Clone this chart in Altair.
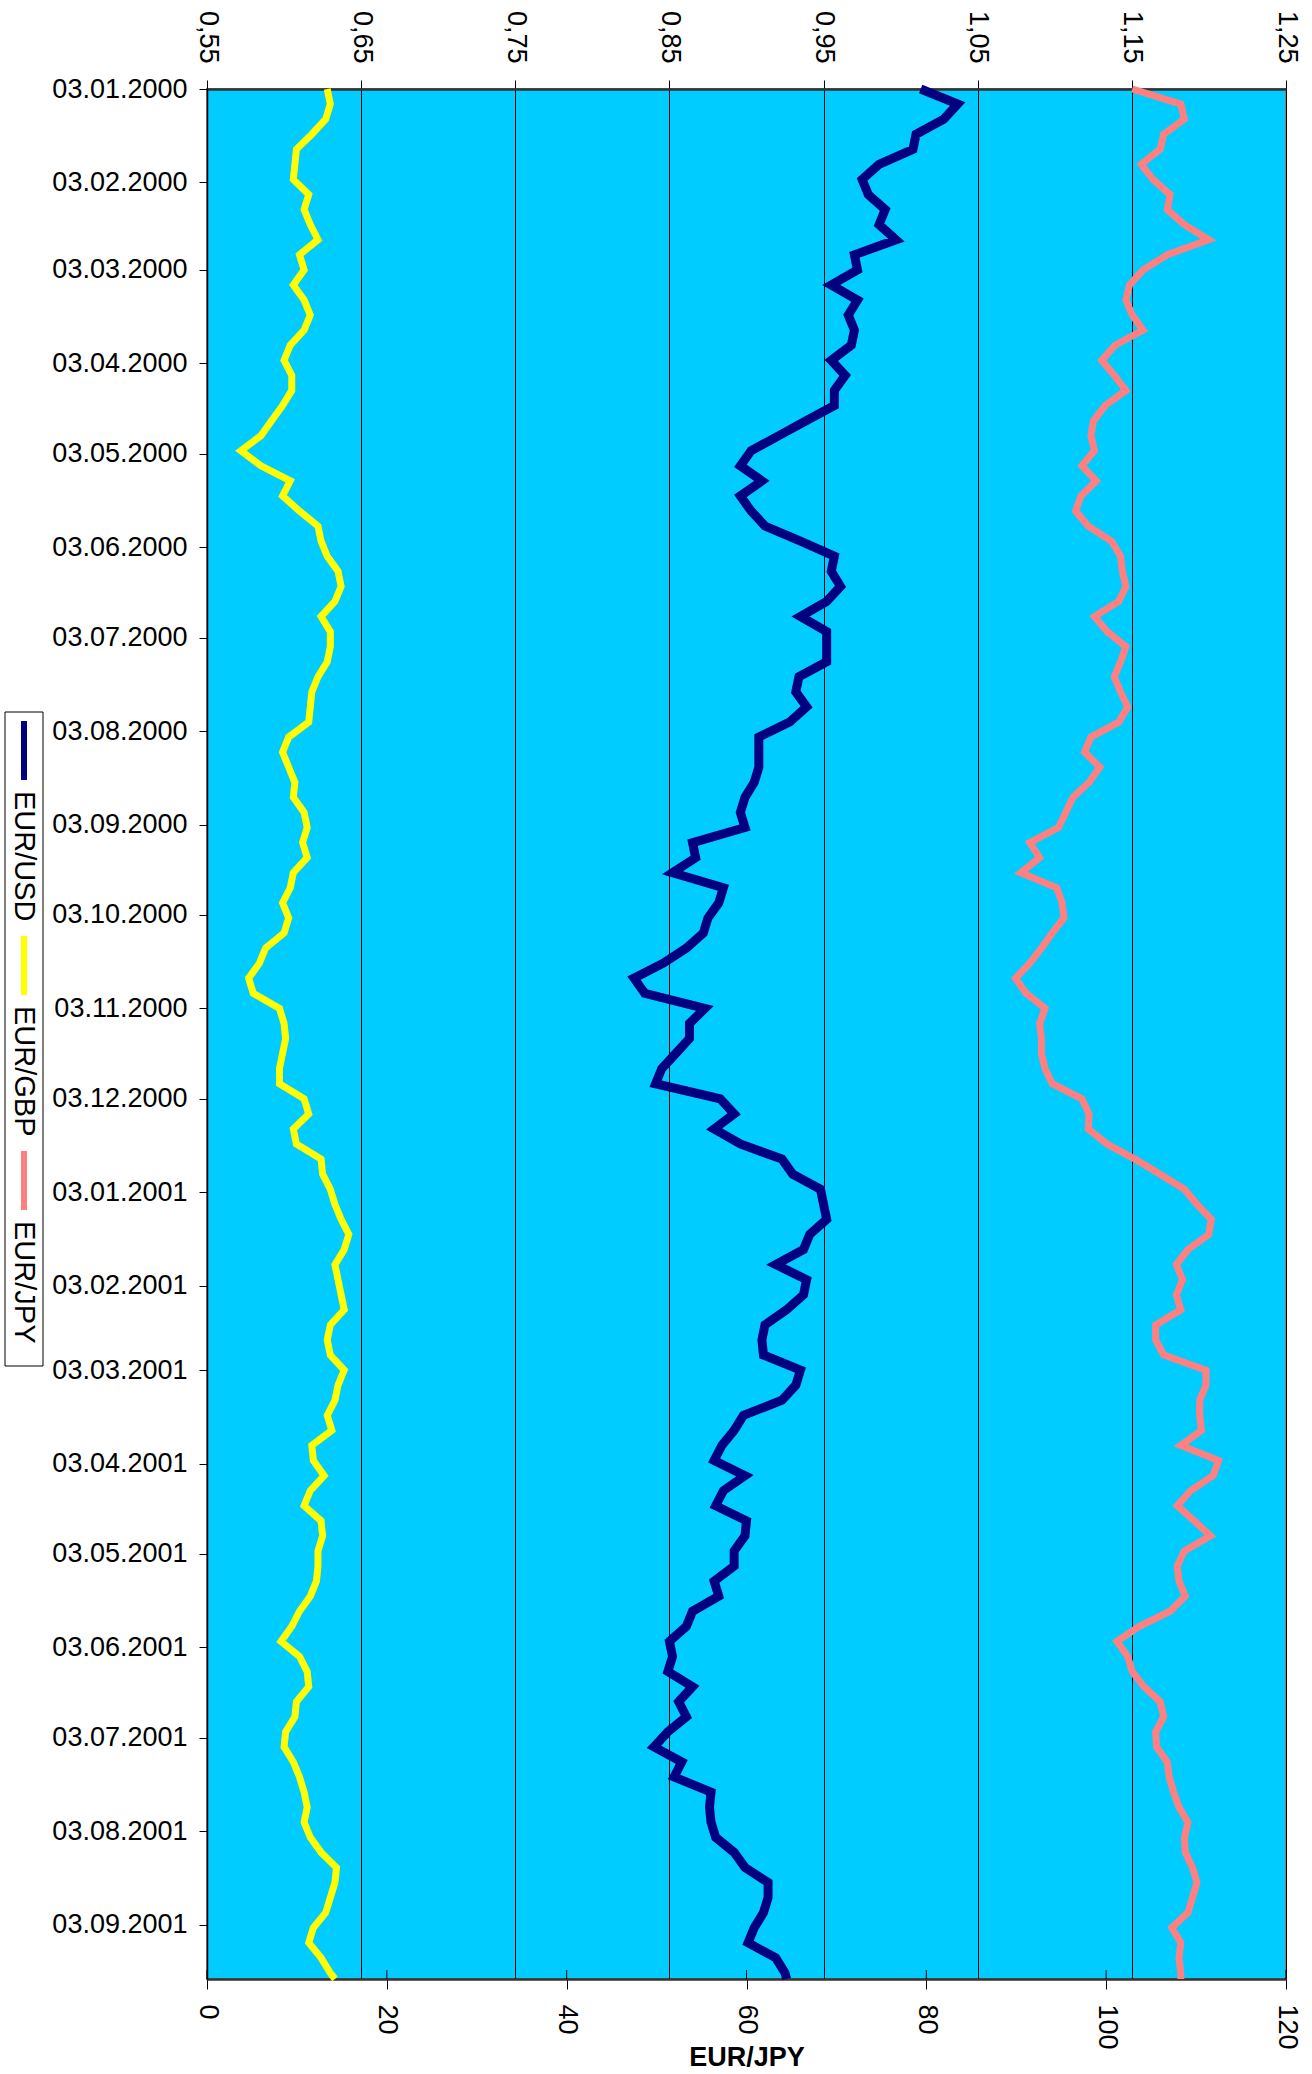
import altair as alt
import pandas as pd

# sample dates (every 5 days from 03.01.2000) plus the last day shown
dates = pd.date_range("2000-01-03", periods=126, freq="5D").strftime("%Y-%m-%d").tolist() + ["2001-09-21"]

eur_usd = [
    1.013, 1.037, 1.028, 1.010, 1.008, 0.986, 0.975, 0.979, 0.990, 0.986,
    0.997, 0.970, 0.972, 0.955, 0.972, 0.966, 0.970, 0.968, 0.955, 0.964,
    0.957, 0.957, 0.939, 0.921, 0.903, 0.896, 0.910, 0.896, 0.903, 0.912,
    0.935, 0.957, 0.955, 0.961, 0.952, 0.935, 0.952, 0.952, 0.952, 0.934,
    0.932, 0.939, 0.928, 0.908, 0.908, 0.908, 0.905, 0.899, 0.896, 0.899,
    0.865, 0.867, 0.852, 0.885, 0.882, 0.875, 0.872, 0.861, 0.846, 0.827,
    0.834, 0.873, 0.863, 0.863, 0.854, 0.845, 0.841, 0.883, 0.892, 0.879,
    0.896, 0.923, 0.930, 0.948, 0.950, 0.952, 0.941, 0.937, 0.919, 0.939,
    0.937, 0.926, 0.912, 0.910, 0.911, 0.935, 0.932, 0.923, 0.898, 0.892,
    0.884, 0.879, 0.899, 0.885, 0.880, 0.900, 0.899, 0.892, 0.892, 0.879,
    0.882, 0.865, 0.861, 0.850, 0.852, 0.849, 0.865, 0.856, 0.861, 0.849,
    0.840, 0.858, 0.853, 0.877, 0.876, 0.877, 0.880, 0.892, 0.899, 0.914,
    0.914, 0.911, 0.905, 0.901, 0.919, 0.925, 0.926,
]

eur_gbp = [
    0.628, 0.630, 0.627, 0.618, 0.608, 0.607, 0.606, 0.616, 0.613, 0.617,
    0.622, 0.610, 0.613, 0.606, 0.613, 0.617, 0.613, 0.604, 0.600, 0.605,
    0.605, 0.599, 0.592, 0.585, 0.572, 0.585, 0.604, 0.599, 0.610, 0.622,
    0.624, 0.628, 0.635, 0.637, 0.633, 0.624, 0.630, 0.630, 0.628, 0.622,
    0.618, 0.617, 0.616, 0.603, 0.599, 0.603, 0.607, 0.606, 0.613, 0.615,
    0.612, 0.615, 0.606, 0.604, 0.599, 0.603, 0.600, 0.588, 0.584, 0.577,
    0.580, 0.597, 0.600, 0.601, 0.599, 0.597, 0.597, 0.613, 0.616, 0.606,
    0.608, 0.624, 0.625, 0.630, 0.633, 0.637, 0.642, 0.639, 0.633, 0.635,
    0.637, 0.639, 0.630, 0.628, 0.630, 0.639, 0.635, 0.633, 0.628, 0.631,
    0.618, 0.619, 0.626, 0.617, 0.613, 0.624, 0.625, 0.622, 0.622, 0.621,
    0.617, 0.610, 0.605, 0.598, 0.610, 0.615, 0.616, 0.608, 0.607, 0.601,
    0.600, 0.606, 0.610, 0.613, 0.615, 0.613, 0.617, 0.624, 0.634, 0.633,
    0.630, 0.627, 0.619, 0.616, 0.624, 0.630, 0.633,
]

eur_jpy = [
    102.9, 108.3, 108.7, 106.4, 106.0, 103.9, 105.2, 107.1, 106.8, 108.7,
    111.4, 106.8, 104.1, 102.6, 102.2, 102.9, 104.1, 101.0, 99.5, 100.9,
    102.2, 99.9, 98.6, 98.3, 98.7, 97.3, 98.9, 97.2, 96.6, 98.0,
    100.6, 101.6, 101.8, 102.2, 101.4, 98.7, 100.1, 102.2, 101.6, 100.9,
    101.6, 102.4, 101.4, 98.3, 97.6, 99.3, 98.1, 96.3, 95.5, 94.7,
    91.5, 92.6, 90.5, 94.5, 95.1, 95.3, 94.0, 92.8, 91.5, 89.9,
    91.1, 93.2, 92.6, 92.8, 92.8, 93.2, 94.0, 97.3, 98.1, 98.0,
    100.1, 103.2, 106.0, 108.7, 110.1, 111.7, 111.4, 109.1, 107.8, 108.5,
    107.8, 108.3, 105.5, 105.5, 106.4, 111.1, 111.1, 110.4, 110.4, 110.6,
    108.3, 112.5, 111.9, 109.4, 107.9, 109.8, 111.6, 108.7, 107.9, 108.1,
    108.8, 107.1, 103.7, 101.2, 102.4, 102.9, 104.2, 106.0, 106.4, 105.5,
    105.6, 106.8, 107.0, 107.5, 108.1, 109.1, 108.7, 108.8, 109.6, 110.1,
    109.6, 109.1, 107.3, 108.3, 108.1, 108.3, 108.3,
]

top_ticks = [0.55, 0.65, 0.75, 0.85, 0.95, 1.05, 1.15, 1.25]
jpy_ticks = [0, 20, 40, 60, 80, 100, 120]
label_months = [(2000, m) for m in range(1, 13)] + [(2001, m) for m in range(1, 10)]

legend_names = ["EUR/USD", "EUR/GBP", "EUR/JPY"]
legend_colors = ["#000080", "#FFFF00", "#FF8080"]

FONT = "Liberation Sans"
W, H = 1079, 1890

df = pd.DataFrame({"date": dates, "usd": eur_usd, "gbp": eur_gbp, "jpy": eur_jpy})

y_enc = alt.Y(
    "date:T",
    scale=alt.Scale(
        type="utc",
        domain=[alt.DateTime(year=2000, month=1, date=3, utc=True),
                alt.DateTime(year=2001, month=9, date=21, utc=True)],
        reverse=True,
        nice=False,
    ),
    axis=alt.Axis(
        values=[alt.DateTime(year=y, month=m, date=3, utc=True) for y, m in label_months],
        format="%d.%m.%Y",
        title=None,
        grid=False,
        tickSize=8,
        tickColor="black",
        labelPadding=12,
        labelFontSize=27,
        labelFont=FONT,
        labelColor="black",
        labelOverlap=False,
        domainColor="black",
        domainWidth=1.5,
    ),
)

top_scale = alt.Scale(domain=[0.55, 1.25], nice=False, zero=False)
jpy_scale = alt.Scale(domain=[0, 120], nice=False, zero=True)

top_axis = alt.Axis(
    orient="top",
    values=top_ticks,
    labelExpr="replace(format(datum.value, '.2f'), '.', ',')",
    labelAngle=90,
    labelAlign="right",
    labelBaseline="middle",
    labelPadding=17,
    labelFontSize=27,
    labelFont=FONT,
    labelColor="black",
    labelFlush=False,
    labelOverlap=False,
    tickSize=9,
    tickColor="black",
    grid=True,
    gridColor="black",
    gridWidth=1,
    domainColor="#333333",
    domainWidth=2.5,
    title=None,
)

bottom_axis = alt.Axis(
    orient="bottom",
    values=jpy_ticks,
    labelAngle=90,
    labelAlign="left",
    labelBaseline="middle",
    labelPadding=15,
    labelFontSize=27,
    labelFont=FONT,
    labelColor="black",
    labelFlush=False,
    labelOverlap=False,
    tickSize=10,
    tickColor="black",
    grid=False,
    domainColor="#333333",
    domainWidth=2.5,
    title="EUR/JPY",
    titleFont=FONT,
    titleFontSize=27,
    titleFontWeight="bold",
    titleColor="black",
    titleY=86,
    titleBaseline="alphabetic",
)

usd_line = alt.Chart(df).mark_line(color="#000080", strokeWidth=9).encode(
    x=alt.X("usd:Q", scale=top_scale, axis=top_axis), y=y_enc, order="date:T"
)
gbp_line = alt.Chart(df).mark_line(color="#FFFF00", strokeWidth=7).encode(
    x=alt.X("gbp:Q", scale=top_scale, axis=None), y=y_enc, order="date:T"
)
jpy_line = alt.Chart(df).mark_line(color="#FF8080", strokeWidth=7).encode(
    x=alt.X("jpy:Q", scale=jpy_scale, axis=bottom_axis), y=y_enc, order="date:T"
)

# inner half of the crossing ticks on the EUR/JPY axis
jpy_inner_ticks = alt.Chart(pd.DataFrame({"t": jpy_ticks})).mark_rule(color="black", strokeWidth=1).encode(
    x=alt.X("t:Q", scale=jpy_scale, axis=None),
    y=alt.value(H - 9),
    y2=alt.value(H),
)

# manual, rotated legend at the left
leg_box = alt.Chart(pd.DataFrame({"a": [0]})).mark_rect(
    fill="white", stroke="black", strokeWidth=1
).encode(x=alt.value(-202), x2=alt.value(-164), y=alt.value(623), y2=alt.value(1277))

legend_layers = [leg_box]
for i, (name, col) in enumerate(zip(legend_names, legend_colors)):
    seg_top = 632 + 215 * i
    legend_layers.append(
        alt.Chart(pd.DataFrame({"name": [name]})).mark_rule(color=col, strokeWidth=6).encode(
            x=alt.value(-183), y=alt.value(seg_top), y2=alt.value(seg_top + 59)
        )
    )
    legend_layers.append(
        alt.Chart(pd.DataFrame({"name": [name]})).mark_text(
            angle=90, align="left", baseline="middle", fontSize=29, font=FONT, color="black"
        ).encode(x=alt.value(-183), y=alt.value(seg_top + 70), text="name:N")
    )

chart = (
    alt.layer(usd_line, gbp_line, jpy_line, jpy_inner_ticks, *legend_layers)
    .resolve_scale(x="independent")
    .properties(
        width=W,
        height=H,
        padding={"left": 4, "top": 10, "right": 4, "bottom": 2},
        view=alt.ViewBackground(fill="#00CCFF", stroke="#808080", strokeWidth=2),
        background="white",
    )
)

chart.save("out.html", embed_options={"renderer": "svg", "actions": False})
